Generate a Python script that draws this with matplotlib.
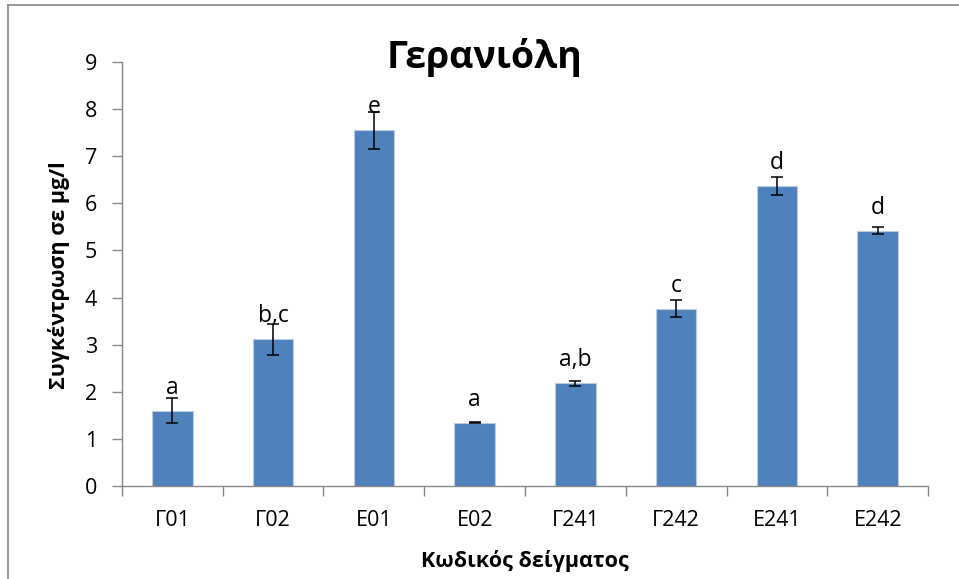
import numpy as np
import matplotlib
matplotlib.use('Agg')
import matplotlib.pyplot as plt
from matplotlib.lines import Line2D

plt.rcParams['font.family'] = ['Open Sans', 'DejaVu Sans']

samples = ['Γ01', 'Γ02', 'Ε01', 'Ε02', 'Γ241', 'Γ242', 'Ε241', 'Ε242']
geraniol = [1.60, 3.11, 7.55, 1.34, 2.18, 3.76, 6.37, 5.42]
errors = [0.27, 0.32, 0.39, 0.01, 0.05, 0.18, 0.19, 0.07]
groups = ['a', 'b,c', 'e', 'a', 'a,b', 'c', 'd', 'd']
yticks = [0, 1, 2, 3, 4, 5, 6, 7, 8, 9]

axis_grey = '#868686'

fig = plt.figure(figsize=(9.59, 5.79), dpi=100)
ax = fig.add_axes([0.1272, 0.1606, 0.8405, 0.7323])

x = np.arange(len(samples))
ax.bar(x, geraniol, width=0.4, color='#4f81bd', edgecolor='#b9cde5',
       linewidth=0.8, zorder=2)
ax.errorbar(x, geraniol, yerr=errors, fmt='none', ecolor='black',
            elinewidth=1.1, capsize=4.3, capthick=1.1, zorder=3)

for xi, v, g in zip(x, geraniol, groups):
    ax.annotate(g, (xi, v), xytext=(0, 8), textcoords='offset points',
                ha='center', va='bottom', fontsize=16.5, zorder=4)

ax.set_xlim(-0.5, len(samples) - 0.5)
ax.set_ylim(0, 9)
ax.set_yticks(yticks)
ax.set_xticks(x)
ax.set_xticklabels(samples)
# category ticks sit on the boundaries between bars
ax.set_xticks(np.arange(len(samples) + 1) - 0.5, minor=True)
ax.tick_params(axis='x', which='major', length=0, pad=17, labelsize=15.5)
ax.tick_params(axis='x', which='minor', length=7, width=1.0, color=axis_grey)
ax.tick_params(axis='y', length=7, width=1.0, color=axis_grey, pad=11,
               labelsize=15.5)

for side in ('top', 'right'):
    ax.spines[side].set_visible(False)
for side in ('left', 'bottom'):
    ax.spines[side].set_color(axis_grey)
    ax.spines[side].set_linewidth(1.0)

fig.text(0.5057, 0.8826, 'Γερανιόλη', fontsize=27, fontweight='bold',
         ha='center', va='baseline')
fig.text(0.5475, 0.0207, 'Κωδικός δείγματος', fontsize=15.5, fontweight='bold',
         ha='center', va='baseline')
fig.text(0.0615, 0.525, 'Συγκέντρωση σε μg/l', fontsize=15.5, fontweight='bold',
         rotation=90, ha='center', va='center')

# chart area frame
fig.add_artist(Line2D([0.0083, 0.0083], [0.0, 0.9913], transform=fig.transFigure,
                      color=axis_grey, linewidth=1.2))
fig.add_artist(Line2D([0.0083, 1.0], [0.9913, 0.9913], transform=fig.transFigure,
                      color=axis_grey, linewidth=1.2))

fig.savefig('out.png', dpi=100)
